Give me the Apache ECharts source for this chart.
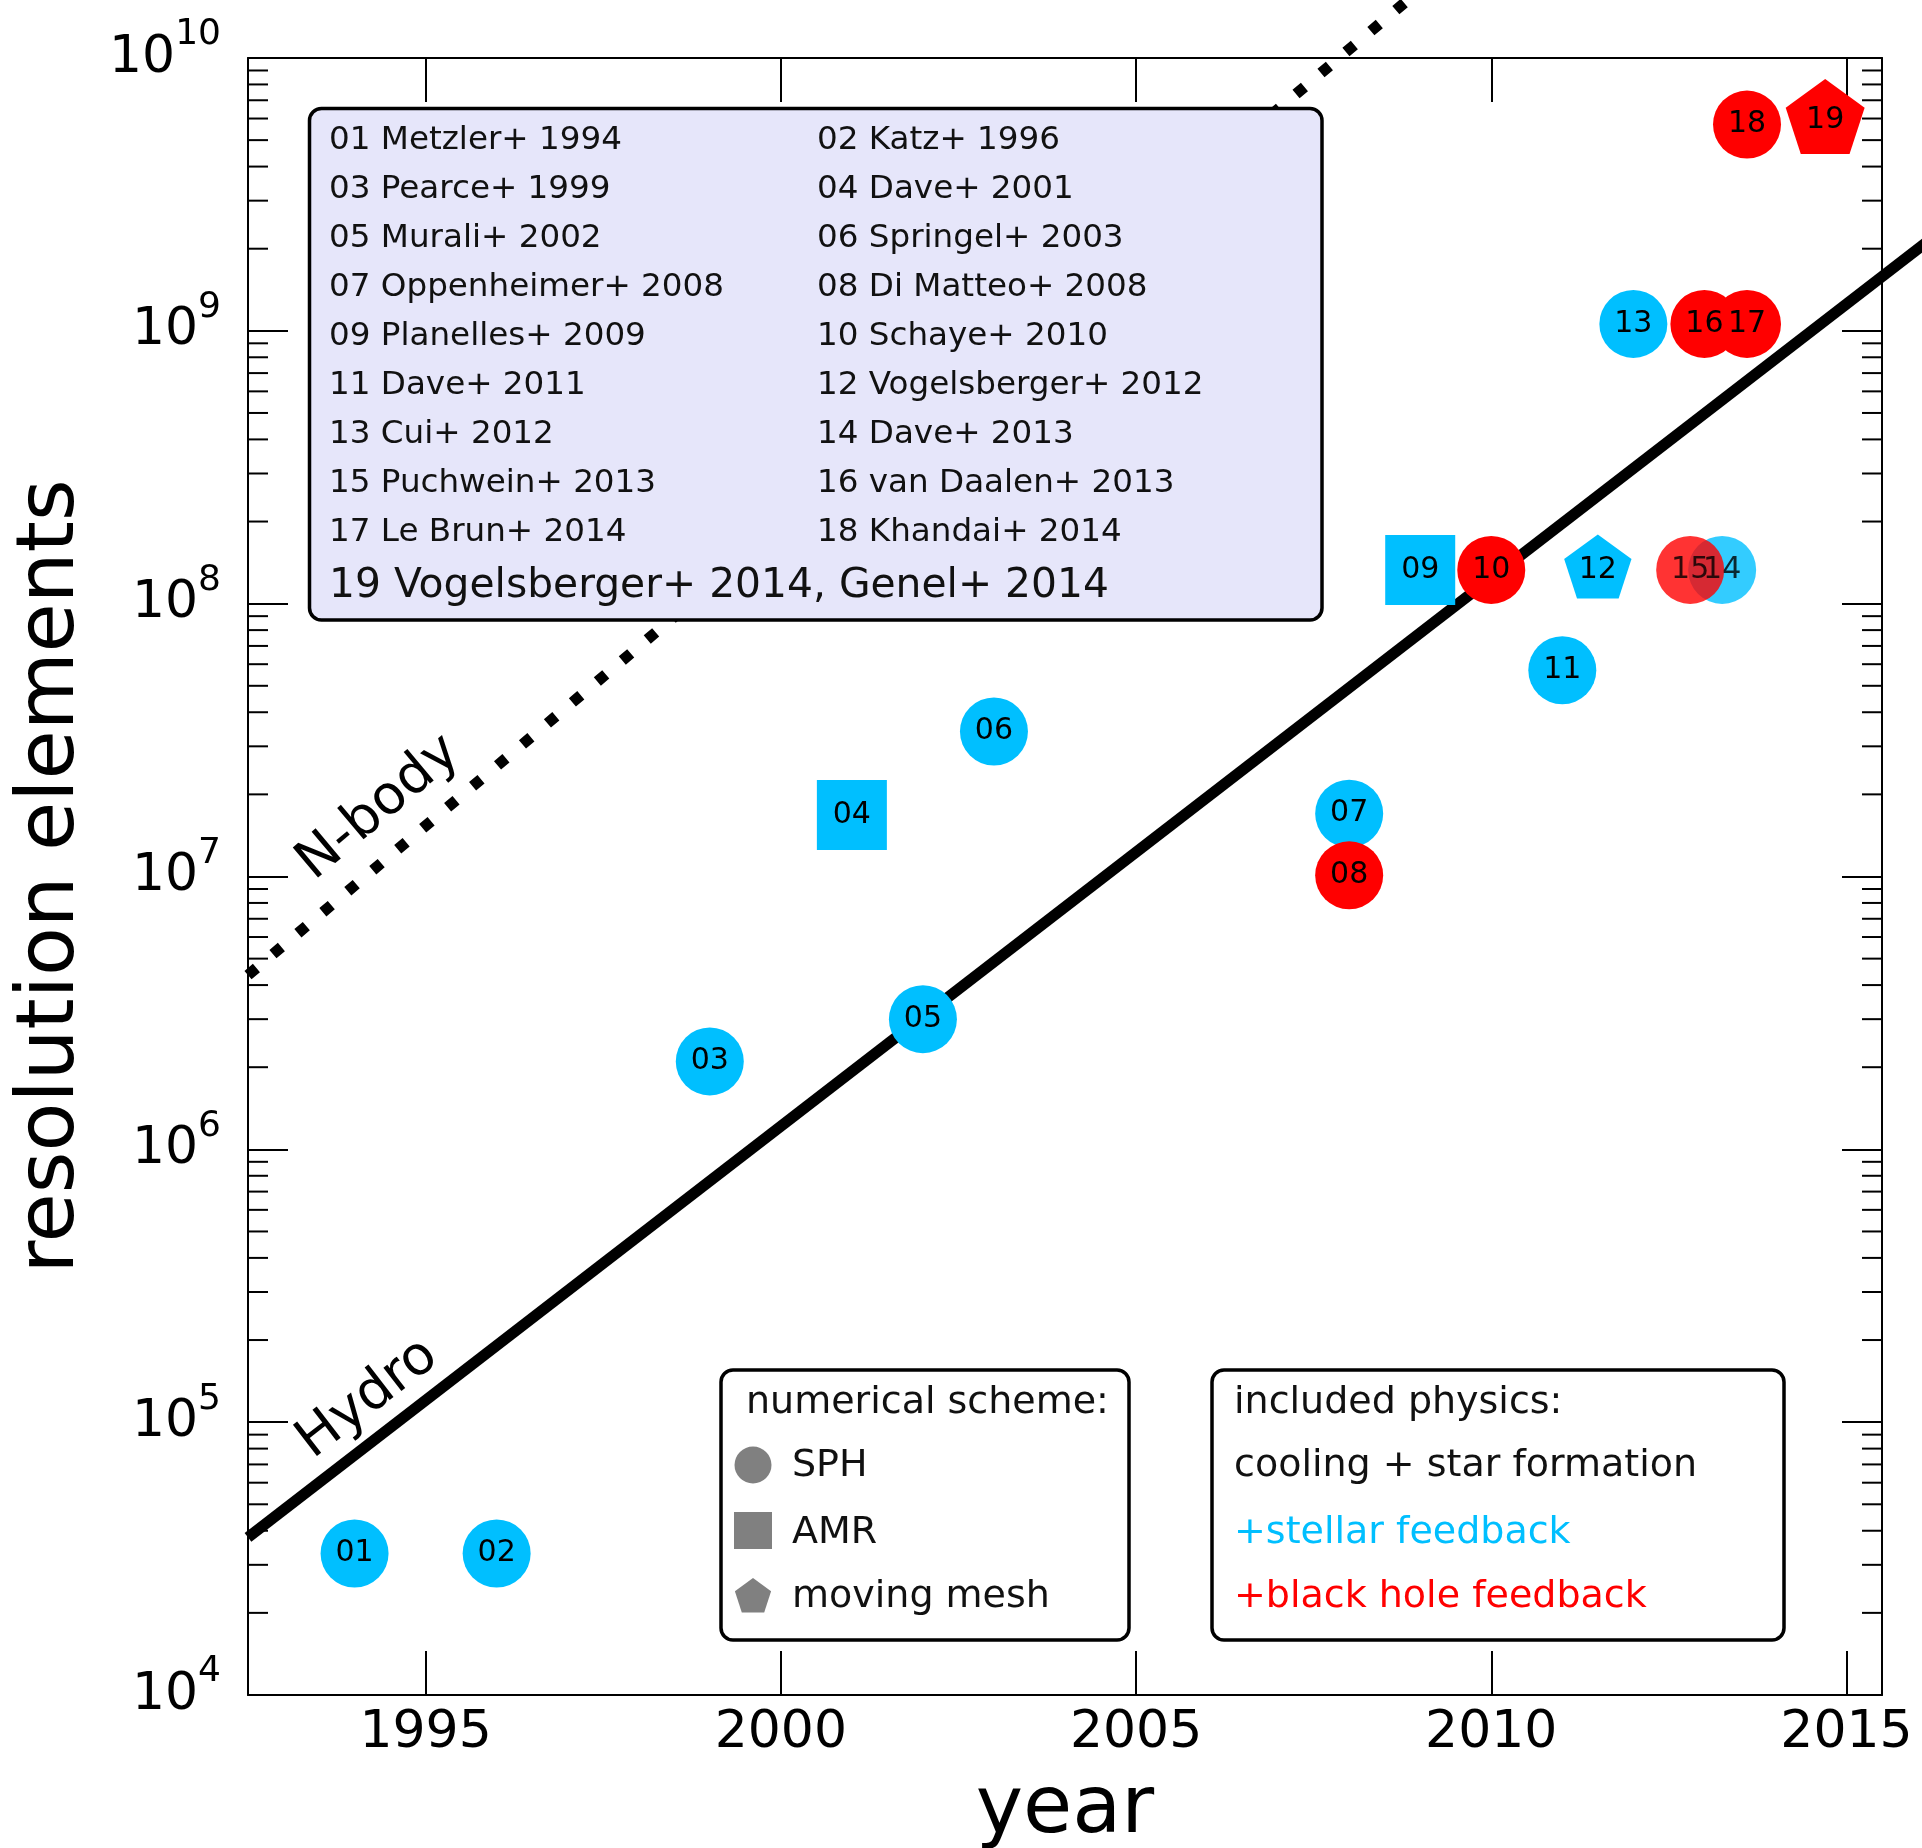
<!DOCTYPE html>
<html>
<head>
<meta charset="utf-8">
<script src="https://cdn.jsdelivr.net/npm/echarts@6/dist/echarts.min.js"></script>
<style>
  html, body { margin: 0; padding: 0; background: #ffffff; }
  #chart { width: 1922px; height: 1848px; }
</style>
</head>
<body>
<div id="chart"></div>
<script>
// ---- Simulation studies -------------------------------------------------
const studyIds = ['01', '02', '03', '04', '05', '06', '07', '08', '09', '10',
                  '11', '12', '13', '14', '15', '16', '17', '18', '19'];
const studyYears = [1994.0, 1996.0, 1999.0, 2001.0, 2002.0, 2003.0, 2008.0, 2008.0, 2009.0, 2010.0,
                    2011.0, 2011.5, 2012.0, 2013.25, 2012.8, 2013.0, 2013.6, 2013.6, 2014.7];
const resolutionElements = [3.3e4, 3.3e4, 2.1e6, 1.68e7, 3.0e6, 3.4e7, 1.7e7, 1.01e7, 1.33e8, 1.33e8,
                            5.7e7, 1.33e8, 1.06e9, 1.33e8, 1.33e8, 1.06e9, 1.06e9, 5.7e9, 5.9e9];
const studySchemes = ['SPH', 'SPH', 'SPH', 'AMR', 'SPH', 'SPH', 'SPH', 'SPH', 'AMR', 'SPH',
                      'SPH', 'moving mesh', 'SPH', 'SPH', 'SPH', 'SPH', 'SPH', 'SPH', 'moving mesh'];
const studyPhysics = ['stellar', 'stellar', 'stellar', 'stellar', 'stellar', 'stellar', 'stellar', 'black hole', 'stellar', 'black hole',
                      'stellar', 'stellar', 'stellar', 'stellar', 'black hole', 'black hole', 'black hole', 'black hole', 'black hole'];
const references = [
  '01 Metzler+ 1994', '02 Katz+ 1996',
  '03 Pearce+ 1999', '04 Dave+ 2001',
  '05 Murali+ 2002', '06 Springel+ 2003',
  '07 Oppenheimer+ 2008', '08 Di Matteo+ 2008',
  '09 Planelles+ 2009', '10 Schaye+ 2010',
  '11 Dave+ 2011', '12 Vogelsberger+ 2012',
  '13 Cui+ 2012', '14 Dave+ 2013',
  '15 Puchwein+ 2013', '16 van Daalen+ 2013',
  '17 Le Brun+ 2014', '18 Khandai+ 2014'
];
const referenceLast = '19 Vogelsberger+ 2014, Genel+ 2014';

// ---- Growth trends (end points) ------------------------------------------
const hydroYears = [1992.5, 2016.5];
const hydroElements = [3.78e4, 2.51e9];
const nbodyYears = [1992.5, 2009.6];
const nbodyElements = [4.35e6, 2.41e10];

// ---- Axes ----------------------------------------------------------------
const yearTicks = [1995, 2000, 2005, 2010, 2015];
const decadeExponents = [4, 5, 6, 7, 8, 9];
const minorMantissas = [2, 3, 4, 5, 6, 7, 8, 9];
const YEAR_MIN = 1992.5, YEAR_MAX = 2015.5;
const RES_MIN = 1e4, RES_MAX = 1e10;

const FONT = 'DejaVu Sans';
const BLUE = '#00BFFF', RED = '#FF0000', GREY = '#808080';
const PENTAGON = 'path://M0,-1L0.9511,-0.309L0.5878,0.809L-0.5878,0.809L-0.9511,-0.309Z';

const minorTickValues = [];
decadeExponents.forEach(e => minorMantissas.forEach(m => minorTickValues.push(m * Math.pow(10, e))));

function studyItem(i) {
  const id = studyIds[i];
  const color = studyPhysics[i] === 'black hole' ? RED : BLUE;
  const item = {
    name: id,
    value: [studyYears[i], resolutionElements[i]],
    itemStyle: { color: color, opacity: (id === '14' || id === '15') ? 0.8 : 1 }
  };
  if (studySchemes[i] === 'moving mesh') {
    const r = id === '19' ? 41.5 : 35.4;
    item.symbol = PENTAGON;
    item.symbolSize = [1.902 * r, 1.809 * r];
    item.symbolOffset = [0, -0.0955 * r];
    item.label = { offset: [0, 0.0955 * r] };
  }
  return item;
}
function itemsFor(scheme) {
  const out = [];
  studyIds.forEach((_, i) => { if (studySchemes[i] === scheme) out.push(studyItem(i)); });
  return out;
}

const markerLabel = {
  show: true, position: 'inside', formatter: '{b}',
  fontSize: 30, fontFamily: FONT, color: '#000'
};

function scatterSeries(scheme, symbol, size) {
  return {
    type: 'scatter', name: scheme, symbol: symbol, symbolSize: size,
    data: itemsFor(scheme), label: markerLabel,
    emphasis: { disabled: true }, z: 4
  };
}

// A trend line drawn through the axes' scales, free to run past the frame
function trendSeries(name, years, values, dash) {
  return {
    type: 'custom', name: name, coordinateSystem: 'cartesian2d', clip: false, silent: true, z: 2,
    data: [[years[0], values[0], years[1], values[1]]],
    encode: { x: [0, 2], y: [1, 3] },
    renderItem: (params, api) => {
      const p0 = api.coord([api.value(0), api.value(1)]);
      const p1 = api.coord([api.value(2), api.value(3)]);
      return {
        type: 'polyline',
        shape: { points: [p0, p1] },
        style: { stroke: '#000', fill: null, lineWidth: 11, lineCap: 'butt', lineDash: dash }
      };
    }
  };
}

const axisLineStyle = { color: '#000', width: 2 };

function yAxisDef(position, showLabels) {
  return {
    type: 'log', logBase: 10, min: RES_MIN, max: RES_MAX, splitNumber: 6,
    position: position,
    name: showLabels ? 'resolution elements' : '',
    nameLocation: 'middle', nameGap: 156, nameRotate: 90,
    nameMoveOverlap: false,
    nameTextStyle: { fontSize: 80, fontFamily: FONT, color: '#000' },
    axisLine: { show: true, lineStyle: axisLineStyle },
    axisTick: { show: true, inside: true, length: 40, lineStyle: { color: '#000', width: 2 } },
    minorTick: { show: false },
    splitLine: { show: false },
    axisLabel: {
      show: showLabels, margin: 27,
      formatter: v => '{b|10}{s|' + Math.round(Math.log10(v)) + '}',
      rich: {
        b: { fontSize: 52, fontFamily: FONT, color: '#000' },
        s: { fontSize: 36, fontFamily: FONT, color: '#000', padding: [0, 0, 46, 0] }
      }
    }
  };
}

function xAxisDef(position, showLabels) {
  return {
    type: 'value', min: YEAR_MIN, max: YEAR_MAX, position: position,
    name: showLabels ? 'year' : '',
    nameLocation: 'middle', nameGap: 76,
    nameMoveOverlap: false,
    nameTextStyle: { fontSize: 80, fontFamily: FONT, color: '#000' },
    axisLine: { show: true, onZero: false, lineStyle: axisLineStyle },
    axisTick: { show: true, inside: true, length: 44, customValues: yearTicks,
                lineStyle: { color: '#000', width: 2 } },
    splitLine: { show: false },
    axisLabel: {
      show: showLabels, margin: 12, customValues: yearTicks,
      formatter: v => String(v),
      fontSize: 52, fontFamily: FONT, color: '#000'
    }
  };
}

// ---- Legend graphics ------------------------------------------------------
const graphics = [];
graphics.push({
  type: 'rect', z: 10,
  shape: { x: 309.5, y: 108.5, width: 1012.5, height: 511.5, r: 12 },
  style: { fill: '#E6E6FA', stroke: '#000', lineWidth: 3.5 }
});
references.forEach((t, i) => {
  graphics.push({
    type: 'text', z: 11,
    style: {
      text: t, x: i % 2 === 0 ? 329 : 817, y: 141 + 49 * Math.floor(i / 2),
      font: '32.6px "' + FONT + '"', fill: '#111', align: 'left', verticalAlign: 'middle'
    }
  });
});
graphics.push({
  type: 'text', z: 11,
  style: { text: referenceLast, x: 329, y: 586, font: '40.8px "' + FONT + '"',
           fill: '#111', align: 'left', verticalAlign: 'middle' }
});

// numerical scheme box
graphics.push({
  type: 'rect', z: 10,
  shape: { x: 721, y: 1370, width: 408, height: 270, r: 12 },
  style: { fill: '#fff', stroke: '#000', lineWidth: 3.5 }
});
// included physics box
graphics.push({
  type: 'rect', z: 10,
  shape: { x: 1212, y: 1370, width: 572, height: 270, r: 12 },
  style: { fill: '#fff', stroke: '#000', lineWidth: 3.5 }
});
const legendRows = [1403, 1466, 1533, 1597];
function legendText(text, x, y, color) {
  return { type: 'text', z: 11,
    style: { text: text, x: x, y: y, font: '38px "' + FONT + '"', fill: color,
             align: 'left', verticalAlign: 'middle' } };
}
graphics.push(legendText('numerical scheme:', 746, legendRows[0], '#111'));
graphics.push(legendText('SPH', 792, legendRows[1], '#111'));
graphics.push(legendText('AMR', 792, legendRows[2], '#111'));
graphics.push(legendText('moving mesh', 792, legendRows[3], '#111'));
graphics.push({ type: 'circle', z: 11, shape: { cx: 753, cy: 1465, r: 18.5 }, style: { fill: GREY } });
graphics.push({ type: 'rect', z: 11, shape: { x: 734, y: 1512, width: 38, height: 37 }, style: { fill: GREY } });
graphics.push({
  type: 'polygon', z: 11,
  shape: { points: [[753, 1578], [771.1, 1591.2], [764.2, 1612.5], [741.8, 1612.5], [734.9, 1591.2]] },
  style: { fill: GREY }
});
graphics.push(legendText('included physics:', 1234, legendRows[0], '#111'));
graphics.push(legendText('cooling + star formation', 1234, legendRows[1], '#111'));
graphics.push(legendText('+stellar feedback', 1234, legendRows[2], BLUE));
graphics.push(legendText('+black hole feedback', 1234, legendRows[3], RED));

// trend line captions
graphics.push({
  type: 'text', z: 6, x: 379, y: 808, rotation: 40 * Math.PI / 180,
  style: { text: 'N-body', x: 0, y: 0, font: '54px "' + FONT + '"', fill: '#000',
           align: 'center', verticalAlign: 'middle' }
});
graphics.push({
  type: 'text', z: 6, x: 368, y: 1399, rotation: 37.6 * Math.PI / 180,
  style: { text: 'Hydro', x: 0, y: 0, font: '54px "' + FONT + '"', fill: '#000',
           align: 'center', verticalAlign: 'middle' }
});

// ---- Chart ----------------------------------------------------------------
const chart = echarts.init(document.getElementById('chart'), null, { renderer: 'canvas' });
chart.setOption({
  animation: false,
  backgroundColor: '#ffffff',
  grid: { left: 248, right: 40, top: 58, bottom: 153, containLabel: false, outerBoundsMode: 'none' },
  xAxis: [xAxisDef('bottom', true), xAxisDef('top', false)],
  yAxis: [yAxisDef('left', true), yAxisDef('right', false)],
  graphic: graphics,
  series: [
    trendSeries('Hydro', hydroYears, hydroElements, null),
    trendSeries('N-body', nbodyYears, nbodyElements, [11, 21.6]),
    {
      type: 'custom', name: 'minor ticks', coordinateSystem: 'cartesian2d', clip: false, silent: true, z: 3,
      data: minorTickValues.map(v => [YEAR_MIN, v]),
      renderItem: (params, api) => {
        const v = api.value(1);
        const a = api.coord([YEAR_MIN, v]);
        const b = api.coord([YEAR_MAX, v]);
        const len = 20;
        return {
          type: 'group',
          children: [
            { type: 'line', shape: { x1: a[0], y1: a[1], x2: a[0] + len, y2: a[1] },
              style: { stroke: '#000', lineWidth: 2 } },
            { type: 'line', shape: { x1: b[0] - len, y1: b[1], x2: b[0], y2: b[1] },
              style: { stroke: '#000', lineWidth: 2 } }
          ]
        };
      }
    },
    scatterSeries('AMR', 'rect', 70),
    scatterSeries('SPH', 'circle', 68),
    scatterSeries('moving mesh', PENTAGON, 64)
  ]
});
</script>
</body>
</html>
